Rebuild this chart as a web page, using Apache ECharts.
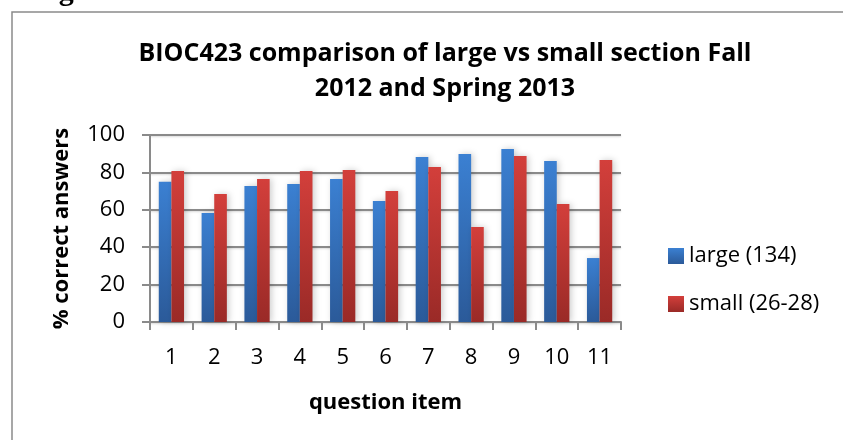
<!DOCTYPE html>
<html>
<head>
<meta charset="utf-8">
<script src="https://cdn.jsdelivr.net/npm/echarts@6/dist/echarts.min.js"></script>
<style>
  html, body { margin: 0; padding: 0; background: #fff; }
  #chart { width: 843px; height: 440px; }
</style>
</head>
<body>
<div id="chart"></div>
<script>
// Question items on the x axis
const questionItems = ['1', '2', '3', '4', '5', '6', '7', '8', '9', '10', '11'];
// % correct answers, large section (134 students)
const largeSection = [75, 58.3, 72.7, 73.8, 76.5, 64.7, 88.2, 89.8, 92.5, 86.1, 34.2];
// % correct answers, small sections (26-28 students)
const smallSection = [80.7, 68.4, 76.5, 80.7, 81.3, 70, 82.9, 50.8, 88.8, 63.1, 86.6];
// Value axis ticks
const yTicks = [0, 20, 40, 60, 80, 100];

const FONT = '"Open Sans", "Noto Sans", sans-serif';

function grad(top, bottom) {
  return new echarts.graphic.LinearGradient(0, 0, 0, 1, [
    { offset: 0, color: top },
    { offset: 1, color: bottom }
  ]);
}

const chart = echarts.init(document.getElementById('chart'), null, { renderer: 'canvas' });

const barShadow = {
  shadowColor: 'rgba(0,0,0,0.2)',
  shadowBlur: 6,
  shadowOffsetX: 2,
  shadowOffsetY: 0
};

chart.setOption({
  animation: false,
  backgroundColor: '#fff',
  title: {
    text: 'BIOC423 comparison of large vs small section Fall\n2012 and Spring 2013',
    left: 440,
    top: 31,
    textAlign: 'center',
    textStyle: {
      fontFamily: FONT,
      fontWeight: 'bold',
      fontSize: 25,
      lineHeight: 35,
      color: '#000'
    }
  },
  legend: {
    orient: 'vertical',
    left: 663,
    top: 240,
    itemWidth: 16,
    itemHeight: 16,
    itemGap: 26,
    icon: 'rect',
    textStyle: { fontFamily: FONT, fontSize: 22, color: '#000' },
    data: ['large (134)', 'small (26-28)']
  },
  grid: { left: 150, right: 222, top: 135, bottom: 118, containLabel: false },
  xAxis: {
    type: 'category',
    data: questionItems,
    name: 'question item',
    nameLocation: 'middle',
    nameGap: 70,
    nameTextStyle: { fontFamily: FONT, fontWeight: 'bold', fontSize: 22, color: '#000' },
    axisLine: { lineStyle: { color: '#8a8a8a', width: 2 } },
    axisTick: { show: true, length: 8, alignWithLabel: false, lineStyle: { color: '#8a8a8a', width: 2 } },
    axisLabel: { fontFamily: FONT, fontSize: 22, color: '#000', margin: 25 }
  },
  yAxis: {
    type: 'value',
    min: 0,
    max: 100,
    interval: 20,
    name: '% correct answers',
    nameLocation: 'middle',
    nameGap: 77,
    nameTextStyle: { fontFamily: FONT, fontWeight: 'bold', fontSize: 22, color: '#000' },
    axisLine: { show: true, lineStyle: { color: '#8a8a8a', width: 2 } },
    axisTick: { show: true, inside: false, length: 8, lineStyle: { color: '#8a8a8a', width: 2 } },
    axisLabel: {
      fontFamily: FONT, fontSize: 22, color: '#000', margin: 25,
      formatter: v => (yTicks.indexOf(v) >= 0 ? String(v) : '')
    },
    splitLine: {
      show: true,
      lineStyle: { color: '#8a8a8a', width: 2, shadowColor: 'rgba(0,0,0,0.15)', shadowBlur: 2, shadowOffsetY: 1 }
    }
  },
  series: [
    {
      name: 'large (134)',
      type: 'bar',
      data: largeSection,
      barGap: '0%',
      barCategoryGap: '41%',
      itemStyle: Object.assign({ color: grad('#3b80d2', '#2b5a99') }, barShadow)
    },
    {
      name: 'small (26-28)',
      type: 'bar',
      data: smallSection,
      itemStyle: Object.assign({ color: grad('#d33f3b', '#9a2a27') }, barShadow)
    }
  ],
  graphic: [
    // chart frame
    {
      type: 'polyline',
      silent: true,
      shape: { points: [[12, 440], [12, 12], [843, 12]] },
      style: { stroke: '#8a8a8a', lineWidth: 1.5, fill: null }
    },
    // figure caption above the frame, clipped by the page edge
    {
      type: 'text',
      left: 32,
      top: -23,
      style: {
        text: 'Figure 2A.',
        font: 'bold 30px "Liberation Serif", "DejaVu Serif", serif',
        fill: '#000'
      }
    }
  ]
});
</script>
</body>
</html>
